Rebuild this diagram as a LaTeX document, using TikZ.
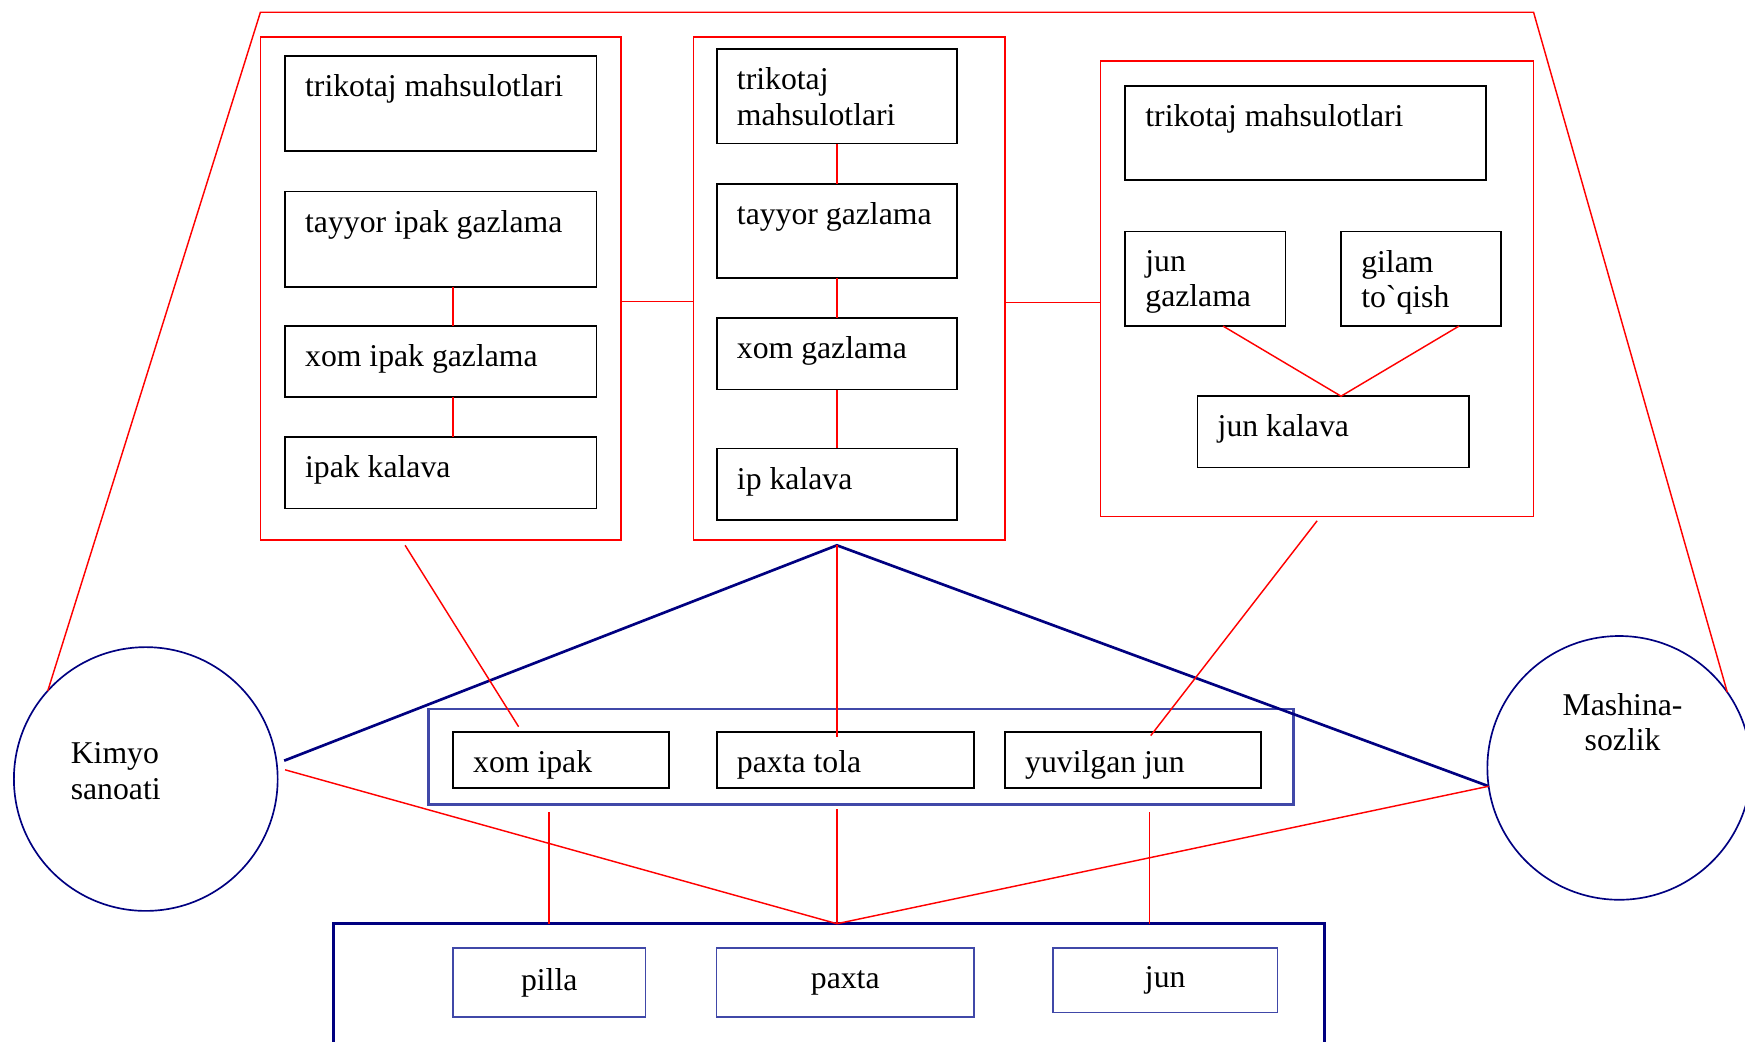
\documentclass[tikz,border=0pt]{standalone}
\usepackage{fontspec}
\setmainfont{Liberation Serif}
\usetikzlibrary{positioning}

\definecolor{navyline}{RGB}{0,0,128}
\definecolor{midblue}{RGB}{64,72,168}

\begin{document}
\begin{tikzpicture}[x=1pt, y=-1pt,
        font=\fontsize{28.5pt}{32pt}\selectfont,
        itemtext/.style = {
            anchor=north west,
            inner sep=0pt,
            xshift=18pt,
            yshift=-16.5pt,
            align=left
        },
        item/.style n args = {3}{
            rectangle,
            draw,
            line width=1.6pt,
            inner sep=0pt,
            outer sep=0pt,
            minimum width=#1,
            minimum height=#2,
            label={[itemtext]north west:{#3}}
        },
        panel/.style 2 args = {
            rectangle,
            draw=red,
            line width=1.5pt,
            inner sep=0pt,
            outer sep=0pt,
            anchor=north west,
            minimum width=#1,
            minimum height=#2
        },
        raw/.style 2 args = {
            rectangle,
            draw=midblue,
            line width=1.3pt,
            inner sep=0pt,
            outer sep=0pt,
            minimum width=#1,
            minimum height=#2
        },
        sector/.style = {
            circle,
            draw=navyline,
            line width=1.5pt,
            inner sep=0pt,
            outer sep=0pt,
            minimum size=237pt
        },
        wire/.style = {red, line width=1.3pt},
        frame/.style = {navyline, line width=2.4pt}
    ]
    \useasboundingbox (0,0) rectangle (1568,936);

    % silk column
    \node (lbox) [panel={324pt}{452pt}] at (234,33) {};
    \node (ltrik) [item={280pt}{86pt}{trikotaj mahsulotlari}, below right=17pt and 22pt of lbox.north west] {};
    \node (ltay) [item={280pt}{86pt}{tayyor ipak gazlama}, below=36pt of ltrik] {};
    \node (lxom) [item={280pt}{64pt}{xom ipak gazlama}, below=35pt of ltay] {};
    \node (lkal) [item={280pt}{64pt}{ipak kalava}, below=36pt of lxom] {};

    % cotton column
    \node (mbox) [panel={280pt}{452pt}] at (623,33) {};
    \node (mtrik) [item={216pt}{85pt}{trikotaj\\mahsulotlari}, below right=11pt and 21pt of mbox.north west] {};
    \node (mtay) [item={216pt}{85pt}{tayyor gazlama}, below=36pt of mtrik] {};
    \node (mxom) [item={216pt}{64pt}{xom gazlama}, below=36pt of mtay] {};
    \node (mip) [item={216pt}{64pt}{ip kalava}, below=53pt of mxom] {};

    % wool column
    \node (rbox) [panel={389pt}{409pt}] at (989,55) {};
    \node (rtrik) [item={324pt}{85pt}{trikotaj mahsulotlari}, below right=22pt and 22pt of rbox.north west] {};
    \node (rjun) [item={144pt}{85pt}{jun\\gazlama}, below=46pt of rtrik.south west, anchor=north west] {};
    \node (rgil) [item={144pt}{85pt}{gilam\\to\textasciigrave qish}, right=50pt of rjun] {};
    \node (rkal) [item={244pt}{64pt}{jun kalava}, below right=63pt and 65pt of rjun.south west] {};

    % fibres
    \node (mid) [rectangle, draw=midblue, line width=2.5pt, inner sep=0pt, outer sep=0pt, anchor=north west,
        minimum width=777pt, minimum height=86pt] at (385,637) {};
    \node (xipak) [item={194pt}{50pt}{xom ipak}, below right=21pt and 22pt of mid.north west] {};
    \node (ptola) [item={231pt}{50pt}{paxta tola}, right=43pt of xipak] {};
    \node (yjun) [item={230pt}{50pt}{yuvilgan jun}, right=28pt of ptola] {};

    % raw materials
    \node (bbox) [rectangle, draw=navyline, line width=2.6pt, inner sep=0pt, outer sep=0pt, anchor=north west,
        minimum width=890pt, minimum height=130pt] at (300,830) {};
    \node (pilla) [raw={173pt}{62pt}, below right=22pt and 107pt of bbox.north west] {pilla};
    \node (paxta) [raw={231pt}{62pt}, right=64pt of pilla] {paxta};
    \node (jun) [raw={202pt}{58pt}, right=71pt of paxta.north east, anchor=north west] {jun};

    \node (kimyo) [sector, label={[align=left, xshift=-27pt, yshift=7pt]center:Kimyo\\sanoati}] at (131,700) {};
    \node (mashina) [sector, label={[align=center, xshift=3pt, yshift=41pt]center:Mashina-\\sozlik}] at (1455,690) {};

    \coordinate (tl) at ([yshift=22pt]lbox.north west);
    \coordinate (tr) at (tl -| rbox.north east);
    \coordinate (apex) at ([yshift=-5pt]mip.south |- mbox.south);
    \coordinate (bot) at (apex |- bbox.north);
    \coordinate (lm) at ([yshift=-12pt]lbox.east);
    \coordinate (mr) at ([yshift=-13pt]mbox.east);

    \draw[wire] (kimyo.138) -- (tl) -- (tr) -- (mashina.35);
    \draw[wire] (lm) -- (lm -| mbox.west);
    \draw[wire] (mr) -- (mr -| rbox.west);

    \draw[wire] ([xshift=11pt]ltay.south) -- ([xshift=11pt]lxom.north);
    \draw[wire] ([xshift=11pt]lxom.south) -- ([xshift=11pt]lkal.north);
    \draw[wire] (mtrik) -- (mtay);
    \draw[wire] (mtay) -- (mxom);
    \draw[wire] (mxom) -- (mip);
    \draw[wire] ([xshift=16pt]rjun.south) -- ([xshift=7pt]rkal.north) -- ([xshift=34pt]rgil.south);

    \draw[frame] ([xshift=7pt]kimyo.8) -- (apex) -- (mashina.188);
    \draw[wire] (apex) -- ([yshift=-4pt]apex |- ptola.north);
    \draw[wire] ([xshift=-32pt,yshift=-5pt]lbox.south) -- ([xshift=-38pt,yshift=5pt]xipak.north);
    \draw[wire] ([yshift=-4pt]rbox.south) -- ([xshift=16pt,yshift=-3pt]yjun.north);

    \draw[wire] ([xshift=7pt]kimyo.4) -- (bot) -- (mashina.188);
    \draw[wire] ([yshift=-7pt]pilla |- mid.south) -- (pilla |- bbox.north);
    \draw[wire] ([yshift=-4pt]apex |- mid.south) -- (bot);
    \draw[wire] ([xshift=15pt,yshift=-7pt]yjun.south |- mid.south) -- ([xshift=15pt]yjun.south |- bbox.north);
\end{tikzpicture}
\end{document}
